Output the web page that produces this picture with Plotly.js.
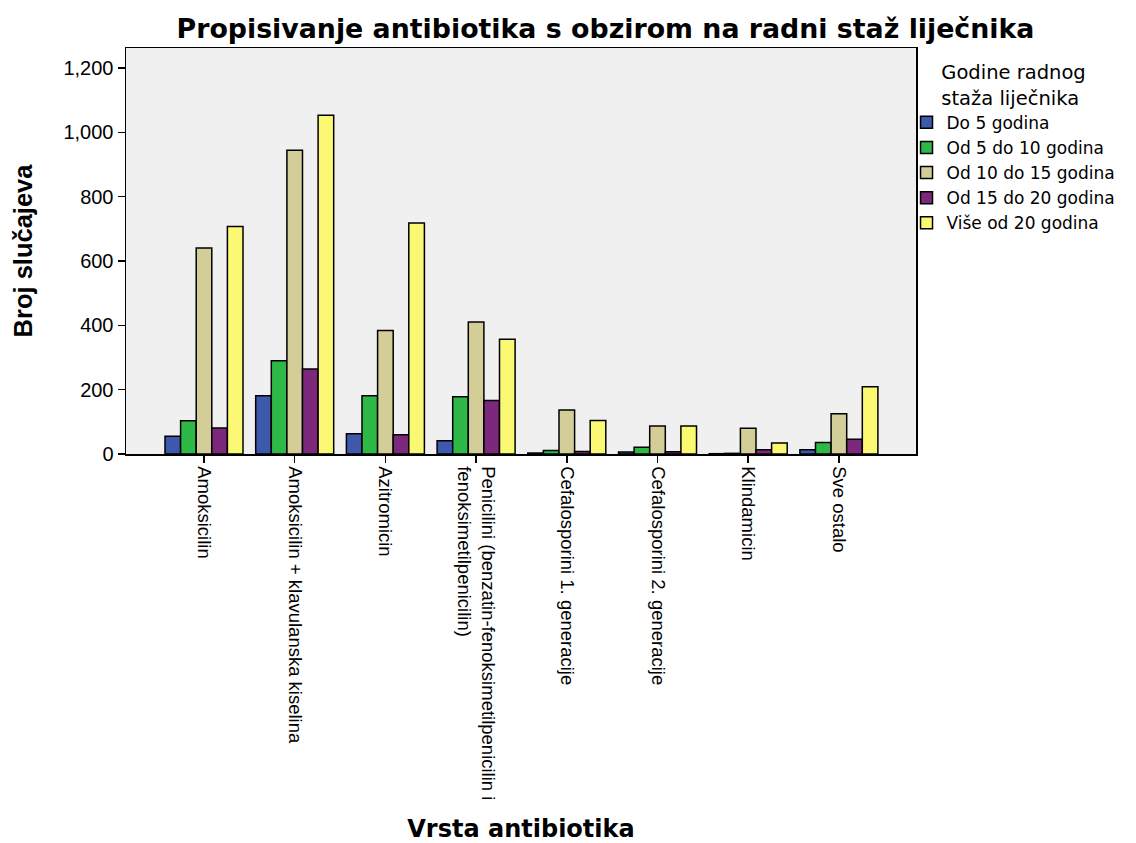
<!DOCTYPE html>
<html>
<head>
<meta charset="utf-8">
<script src="https://cdn.plot.ly/plotly-3.0.1.min.js"></script>
<style>
html,body{margin:0;padding:0;background:#fff;}
#chart{width:1136px;height:843px;}
</style>
</head>
<body>
<div id="chart"></div>
<script>
const categories = [
  "Amoksicilin",
  "Amoksicilin + klavulanska kiselina",
  "Azitromicin",
  "Penicilini (benzatin-fenoksimetilpenicilin i<br>fenoksimetilpenicilin)",
  "Cefalosporini 1. generacije",
  "Cefalosporini 2. generacije",
  "Klindamicin",
  "Sve ostalo"
];
const seriesNames = ["Do 5 godina", "Od 5 do 10 godina", "Od 10 do 15 godina", "Od 15 do 20 godina", "Više od 20 godina"];
const do5 =     [55, 181, 63, 41, 3, 6, 1, 13];
const od5do10 = [103, 290, 181, 178, 11, 21, 2, 36];
const od10do15 = [640, 944, 384, 410, 137, 87, 80, 125];
const od15do20 = [81, 264, 60, 166, 8, 7, 13, 46];
const vise20 =  [707, 1053, 718, 357, 104, 87, 34, 209];
const colors = ["#3E58AC", "#2EB848", "#D3CE97", "#7C287D", "#FBF873"];
const yTicks = [0, 200, 400, 600, 800, 1000, 1200];
const yTickText = ["0", "200", "400", "600", "800", "1,000", "1,200"];

const allSeries = [do5, od5do10, od10do15, od15do20, vise20];
const xIdx = categories.map((c, i) => i);
const traces = allSeries.map((vals, k) => ({
  type: "bar",
  name: seriesNames[k],
  x: xIdx,
  y: vals,
  marker: {color: colors[k], line: {color: "#000", width: 1.5}},
  hoverinfo: "y+name"
}));

const sans = "Liberation Sans, Arial, sans-serif";
const wide = "DejaVu Sans, sans-serif";
const layout = {
  width: 1136, height: 843,
  margin: {l: 126, r: 220, t: 48, b: 389},
  paper_bgcolor: "#ffffff",
  plot_bgcolor: "#f0f0f0",
  barmode: "group",
  bargap: 0.14,
  bargroupgap: 0,
  font: {family: sans, color: "#000", size: 14},
  title: {text: "<b>Propisivanje antibiotika s obzirom na radni staž liječnika</b>", font: {size: 26.8, family: wide}, x: 0.533, xanchor: "center", y: 0.966, yanchor: "middle"},
  xaxis: {
    range: [-0.86, 7.85],
    tickvals: xIdx,
    ticktext: categories,
    tickangle: 90,
    ticks: "outside", ticklen: 7, tickcolor: "#000", tickwidth: 1.5,
    showline: true, linecolor: "#000", linewidth: 1.5, mirror: true,
    showgrid: false, zeroline: false,
    tickfont: {size: 18.5, family: sans},
    automargin: false,
    title: {text: "<b>Vrsta antibiotika</b>", font: {size: 24, family: wide}, standoff: 25}
  },
  yaxis: {
    range: [0, 1262],
    tickvals: yTicks,
    ticktext: yTickText,
    ticks: "outside", ticklen: 7, tickcolor: "#000", tickwidth: 1.5,
    showline: true, linecolor: "#000", linewidth: 1.5, mirror: true,
    showgrid: false, zeroline: false,
    tickfont: {size: 20, family: sans},
    automargin: false,
    title: {text: "<b>Broj slučajeva</b>", font: {size: 25.5, family: sans}, standoff: 23}
  },
  legend: {
    x: 0.988, xanchor: "left", y: 0.985, yanchor: "top",
    bgcolor: "rgba(0,0,0,0)",
    font: {size: 17, family: wide},
    tracegroupgap: 0,
    itemwidth: 30,
    title: {text: "Godine radnog<br>staža liječnika", side: "top center", font: {size: 19.5, family: wide}}
  },
  showlegend: true
};

Plotly.newPlot("chart", traces, layout, {displayModeBar: false, staticPlot: true});
</script>
</body>
</html>
